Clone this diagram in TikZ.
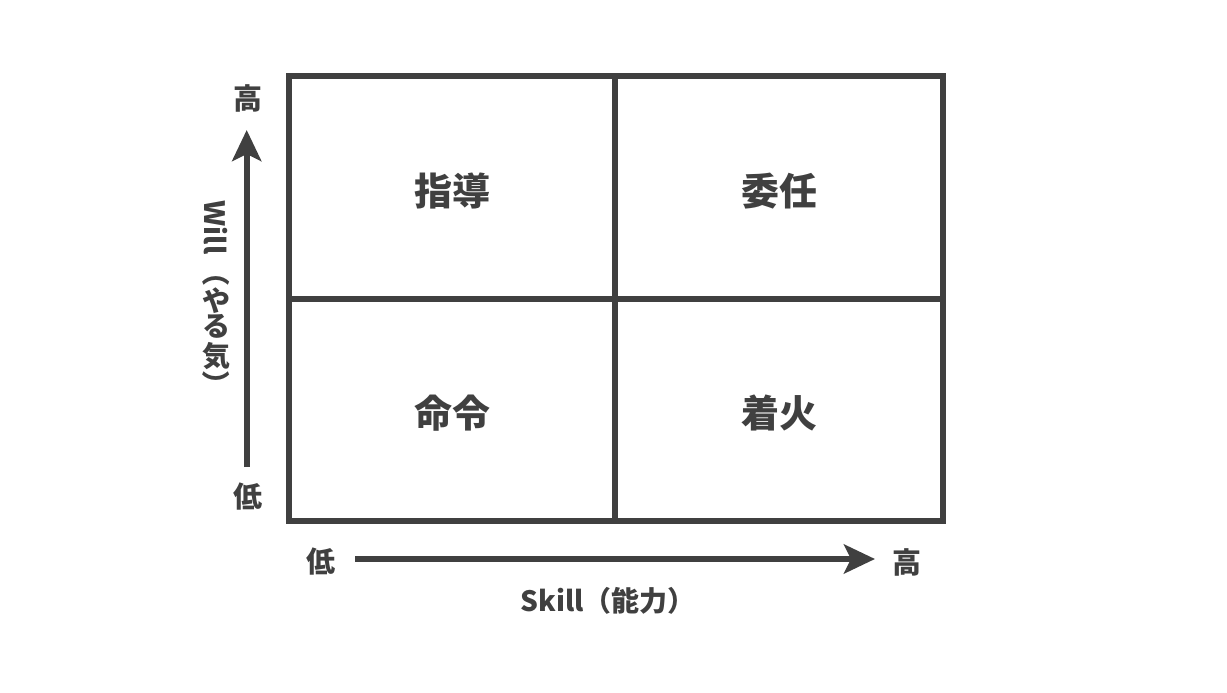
\documentclass[tikz,border=0pt]{standalone}
\usepackage{fontspec}
\IfFontExistsTF{Noto Sans CJK JP Black}
  {\setmainfont{Noto Sans CJK JP}[BoldFont={Noto Sans CJK JP Black}]}
  {\setmainfont{Noto Sans CJK JP}}
\usetikzlibrary{arrows.meta, positioning}
\definecolor{ink}{HTML}{404040}

\begin{document}
\begin{tikzpicture}[x=1pt, y=-1pt, line width=6pt, color=ink, >={Stealth[length=31pt, width=29pt, inset=7pt]},
    every node/.style={inner sep=0pt, text=ink},
    quadlabel/.style={font=\fontsize{38}{38}\selectfont\bfseries},
    axislabel/.style={font=\fontsize{29}{29}\selectfont\bfseries},
    vlabel/.style={font=\fontsize{28}{28}\selectfont\bfseries}]
    \useasboundingbox (0,0) rectangle (1227,693);

    % Matrix frame
    \coordinate (frameTL) at (288.7,76.3);
    \coordinate (frameBR) at (942.5,521.3);
    \draw (frameTL) rectangle (frameBR);
    \draw (615.3,76.3) -- (615.3,521.3);
    \draw (288.7,298.5) -- (942.5,298.5);

    % Quadrant labels
    \node (shido) [quadlabel] at (452,191) {指導};
    \node (inin) [quadlabel] at (779,191) {委任};
    \node (meirei) [quadlabel] at (452,413) {命令};
    \node (chakka) [quadlabel] at (779,413) {着火};

    % Will axis
    \node (willHigh) [axislabel] at (248,98) {高};
    \node (willLow) [axislabel] at (248,497) {低};
    \coordinate (willStart) at (246.7,467);
    \coordinate (willEnd) at (246.7,130);
    \draw[->] (willStart) -- (willEnd);
    \node (willText) [vlabel, rotate=-90] at (216,227.5) {Will};
    \node (willOpen) [vlabel, rotate=-90] at (216,272) {（};
    \node (willYa) [vlabel] at (216,300.5) {や};
    \node (willRu) [vlabel] at (216,326.5) {る};
    \node (willKi) [vlabel] at (216,356.5) {気};
    \node (willClose) [vlabel, rotate=-90] at (216,384) {）};

    % Skill axis
    \node (skillLow) [axislabel] at (320.5,562) {低};
    \node (skillHigh) [axislabel] at (907,562) {高};
    \coordinate (skillStart) at (355,559);
    \coordinate (skillEnd) at (875,559);
    \draw[->] (skillStart) -- (skillEnd);
    \node (skillText) [vlabel, anchor=base] at (608,611) {Skill（能力）};
\end{tikzpicture}
\end{document}
